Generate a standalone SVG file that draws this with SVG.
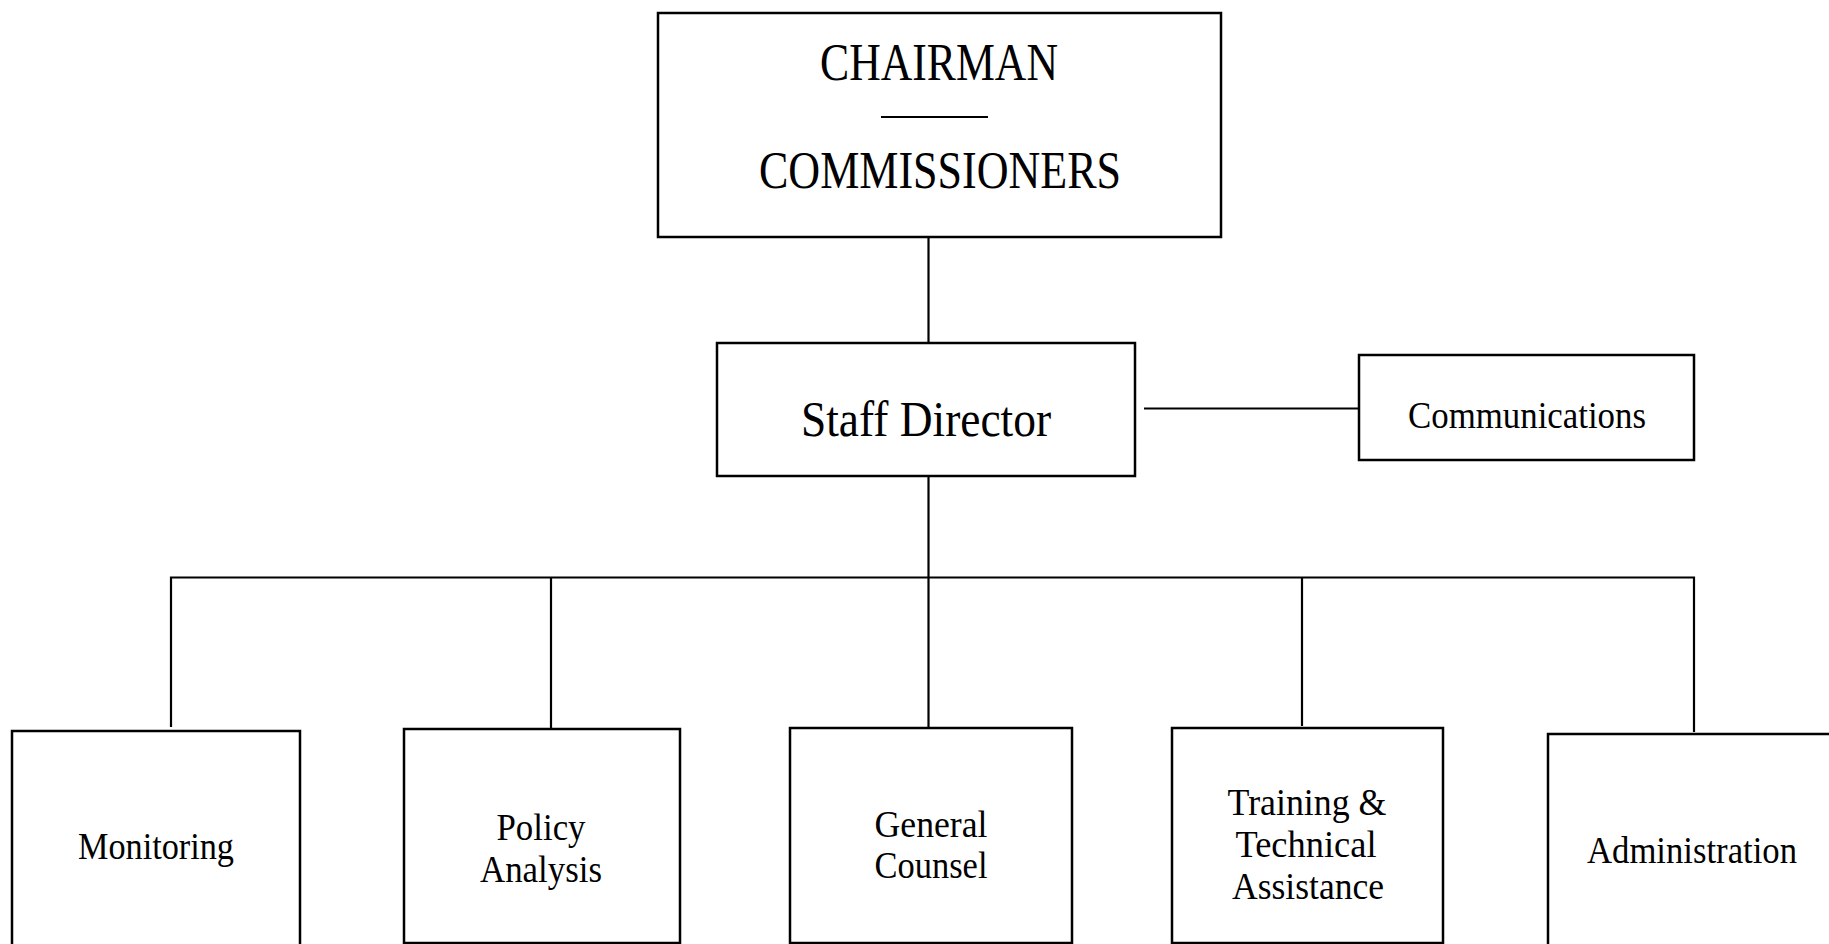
<svg xmlns="http://www.w3.org/2000/svg" width="1829" height="944" viewBox="0 0 1829 944">
<style>
.box{fill:#fff;stroke:#000;stroke-width:2.5}
.ln{stroke:#000;stroke-width:2.2;fill:none}
text{font-family:"Liberation Serif","DejaVu Serif",serif;fill:#000;text-anchor:middle}
.big{font-size:52px}
.mid{font-size:50px}
.sm{font-size:38px}
.lab{font-size:38px}
</style>
<rect width="1829" height="944" fill="#fff"/>
<g id="connectors">
<line class="ln" x1="928.5" y1="237" x2="928.5" y2="343"/>
<line class="ln" x1="1144" y1="408.5" x2="1359" y2="408.5"/>
<line class="ln" x1="928.5" y1="476" x2="928.5" y2="728"/>
<polyline class="ln" points="171,727 171,577.5 1694,577.5 1694,732"/>
<line class="ln" x1="551" y1="577" x2="551" y2="728"/>
<line class="ln" x1="1302" y1="577" x2="1302" y2="726"/>
</g>
<g id="chairman">
<rect class="box" x="658" y="13" width="563" height="224"/>
<text class="big" x="939" y="80" textLength="238" lengthAdjust="spacingAndGlyphs">CHAIRMAN</text>
<line class="ln" x1="881" y1="117" x2="988" y2="117"/>
<text class="big" x="940" y="188" textLength="362" lengthAdjust="spacingAndGlyphs">COMMISSIONERS</text>
</g>
<g id="staff-director">
<rect class="box" x="717" y="343" width="418" height="133"/>
<text class="mid" x="926" y="436" textLength="250" lengthAdjust="spacingAndGlyphs">Staff Director</text>
</g>
<g id="communications">
<rect class="box" x="1359" y="355" width="335" height="105"/>
<text class="sm" x="1527" y="428" textLength="238" lengthAdjust="spacingAndGlyphs">Communications</text>
</g>
<g id="monitoring">
<rect class="box" x="12" y="731" width="288" height="220"/>
<text class="lab" x="156" y="859" textLength="156" lengthAdjust="spacingAndGlyphs">Monitoring</text>
</g>
<g id="policy-analysis">
<rect class="box" x="404" y="729" width="276" height="214"/>
<text class="lab" x="541" y="840" textLength="89" lengthAdjust="spacingAndGlyphs">Policy</text>
<text class="lab" x="541" y="882" textLength="122" lengthAdjust="spacingAndGlyphs">Analysis</text>
</g>
<g id="general-counsel">
<rect class="box" x="790" y="728" width="282" height="215"/>
<text class="lab" x="931" y="837" textLength="113" lengthAdjust="spacingAndGlyphs">General</text>
<text class="lab" x="931" y="878" textLength="113" lengthAdjust="spacingAndGlyphs">Counsel</text>
</g>
<g id="training">
<rect class="box" x="1172" y="728" width="271" height="215"/>
<text class="lab" x="1307" y="815" textLength="159" lengthAdjust="spacingAndGlyphs">Training &amp;</text>
<text class="lab" x="1306" y="857" textLength="141" lengthAdjust="spacingAndGlyphs">Technical</text>
<text class="lab" x="1308" y="899" textLength="152" lengthAdjust="spacingAndGlyphs">Assistance</text>
</g>
<g id="administration">
<rect class="box" x="1548" y="734" width="300" height="220"/>
<text class="lab" x="1692" y="863" textLength="210" lengthAdjust="spacingAndGlyphs">Administration</text>
</g>
</svg>
